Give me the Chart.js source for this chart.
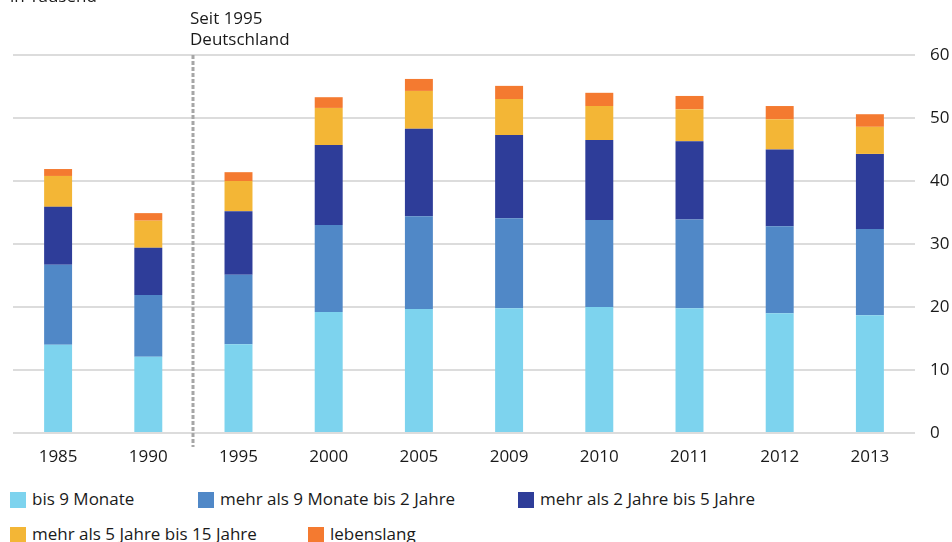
<!DOCTYPE html>
<html>
<head>
<meta charset="utf-8">
<script src="https://cdn.jsdelivr.net/npm/chart.js@4"></script>
<style>
  body { margin: 0; background: #fff; font-family: "Open Sans", sans-serif; color: #1a1a1a; }
  #wrap { position: relative; width: 952px; height: 542px; overflow: hidden; }
  #chart { position: absolute; left: 0; top: 0; }
  .txt { position: absolute; font-size: 17px; line-height: 21px; white-space: nowrap; }
  .item { position: absolute; font-size: 17px; line-height: 18px; white-space: nowrap; }
  .box { display: inline-block; width: 16px; height: 16px; vertical-align: -3px; margin-right: 6px; }
</style>
</head>
<body>
<div id="wrap">
  <canvas id="chart" width="952" height="480"></canvas>
  <div class="txt" style="left:10px;top:-15px;">in Tausend</div>
  <div class="txt" style="left:190px;top:7px;">Seit 1995<br>Deutschland</div>
  <div id="legend"></div>
</div>
<script>
// ===== DATA (in Tausend) =====
const years = ["1985", "1990", "1995", "2000", "2005", "2009", "2010", "2011", "2012", "2013"];
const bis9Monate     = [14.0, 12.1, 14.1, 19.2, 19.7, 19.8, 20.0, 19.8, 19.0, 18.7];
const bis2Jahre      = [12.7,  9.8, 11.0, 13.8, 14.7, 14.3, 13.8, 14.1, 13.8, 13.7];
const bis5Jahre      = [ 9.2,  7.5, 10.1, 12.7, 13.9, 13.2, 12.7, 12.4, 12.2, 11.9];
const bis15Jahre     = [ 4.9,  4.3,  4.8,  5.9,  6.0,  5.7,  5.4,  5.1,  4.8,  4.3];
const lebenslang     = [ 1.1,  1.2,  1.4,  1.7,  1.9,  2.1,  2.1,  2.1,  2.1,  2.0];
const yTicks = [0, 10, 20, 30, 40, 50, 60];

const seriesNames = [
  "bis 9 Monate",
  "mehr als 9 Monate bis 2 Jahre",
  "mehr als 2 Jahre bis 5 Jahre",
  "mehr als 5 Jahre bis 15 Jahre",
  "lebenslang"
];
const seriesColors = ["#7dd3ee", "#5088c7", "#2e3d99", "#f3b636", "#f47a30"];
const seriesData = [bis9Monate, bis2Jahre, bis5Jahre, bis15Jahre, lebenslang];

// ===== LEGEND (html) =====
const legendSpots = [[10, 490], [198, 490], [518, 490], [10, 525], [308, 525]];
const legend = document.getElementById("legend");
seriesNames.forEach((name, i) => {
  const el = document.createElement("div");
  el.className = "item";
  el.style.left = legendSpots[i][0] + "px";
  el.style.top = legendSpots[i][1] + "px";
  el.innerHTML = '<span class="box" style="background:' + seriesColors[i] + '"></span>' + name;
  legend.appendChild(el);
});

// ===== DASHED DIVIDER 1990 | 1995 =====
const divider = {
  id: "divider",
  afterDatasetsDraw(chart) {
    const { ctx, chartArea, scales } = chart;
    const x = Math.round((scales.x.getPixelForValue(1) + scales.x.getPixelForValue(2)) / 2);
    ctx.save();
    ctx.strokeStyle = "#a6a6a6";
    ctx.lineWidth = 3;
    ctx.setLineDash([4, 2]);
    ctx.beginPath();
    ctx.moveTo(x, chartArea.top);
    ctx.lineTo(x, chartArea.bottom + 14);
    ctx.stroke();
    ctx.restore();
  }
};

// ===== CHART =====
new Chart(document.getElementById("chart"), {
  type: "bar",
  data: {
    labels: years,
    datasets: seriesNames.map((name, i) => ({
      label: name,
      data: seriesData[i],
      backgroundColor: seriesColors[i],
      borderWidth: 0,
      barPercentage: 0.31,
      categoryPercentage: 1.0
    }))
  },
  options: {
    responsive: false,
    animation: false,
    layout: { padding: { left: 13, top: 55, right: 0, bottom: 17 } },
    plugins: { legend: { display: false }, tooltip: { enabled: false } },
    scales: {
      x: {
        stacked: true,
        grid: { display: false },
        border: { display: false },
        ticks: { color: "#1a1a1a", font: { family: "Open Sans", size: 17 }, padding: 6 },
        afterFit(scale) { scale.height = 30; }
      },
      y: {
        stacked: true,
        position: "right",
        min: 0,
        max: 60,
        afterBuildTicks(scale) { scale.ticks = yTicks.map(v => ({ value: v })); },
        grid: { color: "#dcdcdc", lineWidth: 2, drawTicks: false },
        border: { display: false },
        ticks: { color: "#1a1a1a", font: { family: "Open Sans", size: 17 }, padding: 15 },
        afterFit(scale) { scale.width = 37; }
      }
    }
  },
  plugins: [divider]
});
</script>
</body>
</html>
